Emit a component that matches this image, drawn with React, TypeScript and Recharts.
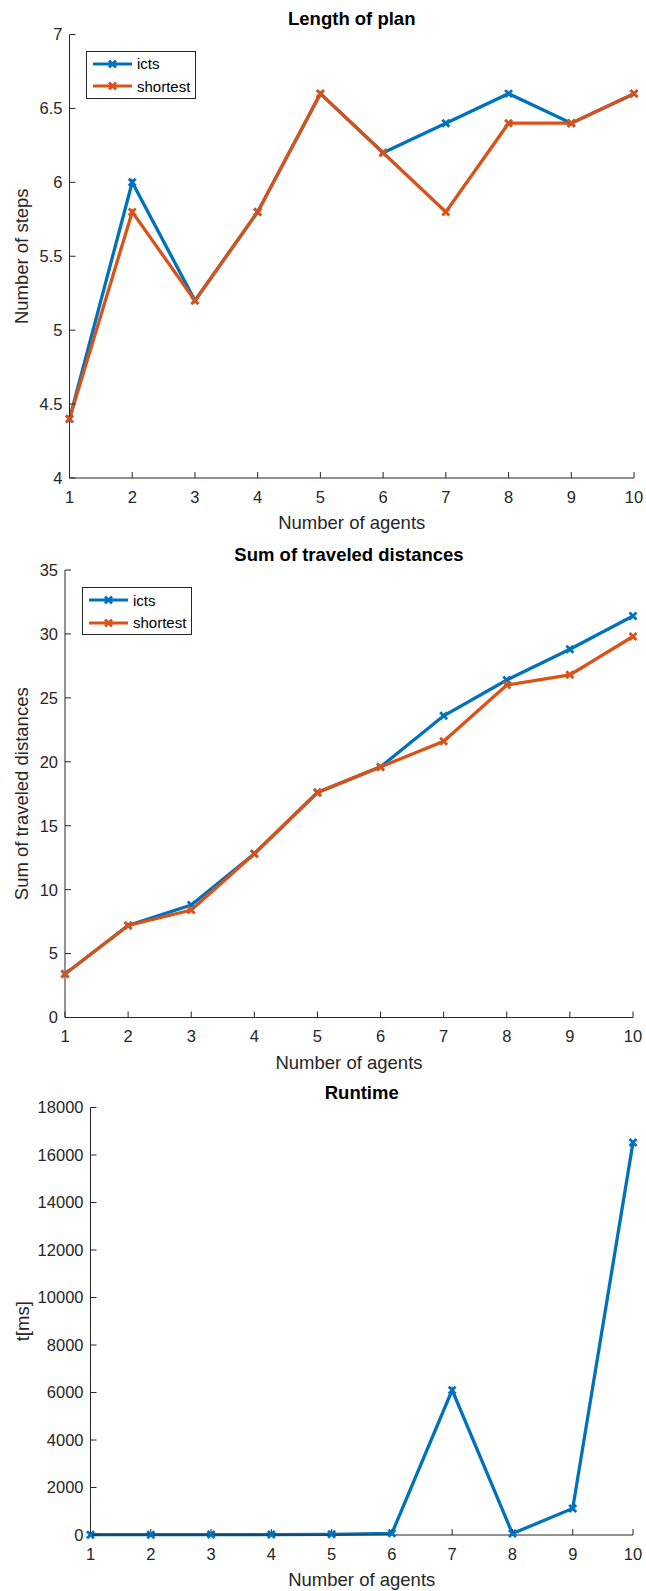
import { Legend, Line, LineChart, XAxis, YAxis } from 'recharts'

const agents = [1, 2, 3, 4, 5, 6, 7, 8, 9, 10]
const planIcts = [4.4, 6.0, 5.2, 5.8, 6.6, 6.2, 6.4, 6.6, 6.4, 6.6]
const planShortest = [4.4, 5.8, 5.2, 5.8, 6.6, 6.2, 5.8, 6.4, 6.4, 6.6]
const distIcts = [3.4, 7.2, 8.8, 12.8, 17.6, 19.6, 23.6, 26.4, 28.8, 31.4]
const distShortest = [3.4, 7.2, 8.4, 12.8, 17.6, 19.6, 21.6, 26.0, 26.8, 29.8]
const runtimeIcts = [15, 15, 20, 20, 30, 70, 6100, 60, 1120, 16530]

const planTicks = [4, 4.5, 5, 5.5, 6, 6.5, 7]
const distTicks = [0, 5, 10, 15, 20, 25, 30, 35]
const runtimeTicks = [0, 2000, 4000, 6000, 8000, 10000, 12000, 14000, 16000, 18000]

const BLUE = '#0072BD'
const ORANGE = '#D95319'
const AXIS = '#262626'
const FONT = '"Liberation Sans", Arial, Helvetica, sans-serif'

const planData = agents.map((n, i) => ({ n, icts: planIcts[i], shortest: planShortest[i] }))
const distData = agents.map((n, i) => ({ n, icts: distIcts[i], shortest: distShortest[i] }))
const runtimeData = agents.map((n, i) => ({ n, icts: runtimeIcts[i] }))

// matlab-style 'x' marker
function Cross(props: any) {
  const { cx, cy, stroke } = props
  if (cx == null || cy == null) return null
  const r = 3.5
  return (
    <path
      d={`M${cx - r},${cy - r}L${cx + r},${cy + r}M${cx - r},${cy + r}L${cx + r},${cy - r}`}
      stroke={stroke}
      strokeWidth={2.8}
      fill="none"
    />
  )
}

function LegendBox({ payload }: any) {
  return (
    <div
      style={{
        border: `1px solid ${AXIS}`,
        background: '#fff',
        width: 110,
        height: 48,
        boxSizing: 'border-box',
        paddingTop: 1,
        fontFamily: FONT,
        fontSize: 15,
        color: '#000',
      }}
    >
      {(payload || []).map((p: any) => (
        <div key={p.value} style={{ display: 'flex', alignItems: 'center', height: 22.5 }}>
          <svg width={46} height={12} style={{ marginLeft: 4 }}>
            <line x1={2} y1={6} x2={41} y2={6} stroke={p.color} strokeWidth={3.2} />
            <Cross cx={21.5} cy={6} stroke={p.color} />
          </svg>
          <span>{p.value}</span>
        </div>
      ))}
    </div>
  )
}

const xLabel = (text: string) => (props: any) => {
  const vb = props.viewBox
  return (
    <text x={vb.x + vb.width / 2} y={vb.y + 51} textAnchor="middle" fontSize={18.5} fill={AXIS} fontFamily={FONT}>
      {text}
    </text>
  )
}

const yLabel = (text: string, cx: number) => (props: any) => {
  const vb = props.viewBox
  const cy = vb.y + vb.height / 2
  return (
    <text
      x={cx}
      y={cy}
      transform={`rotate(-90 ${cx} ${cy})`}
      textAnchor="middle"
      dominantBaseline="central"
      fontSize={18.5}
      fill={AXIS}
      fontFamily={FONT}
    >
      {text}
    </text>
  )
}

const tickStyle = { fill: AXIS, fontSize: 16.5, fontFamily: FONT }

interface PanelProps {
  top: number
  height: number
  plotTop: number
  plotBottom: number
  plotLeft: number
  plotRight: number
  title: string
  titleY: number
  yTitle: string
  yTitleX: number
  yTicks: number[]
  data: any[]
  series: { key: string; color: string }[]
  legend?: { left: number; top: number }
}

function Panel(p: PanelProps) {
  const width = 646
  return (
    <div style={{ position: 'absolute', left: 0, top: p.top, width, height: p.height }}>
      <div
        style={{
          position: 'absolute',
          left: p.plotLeft,
          width: p.plotRight - p.plotLeft,
          top: p.titleY - p.top - 11,
          lineHeight: '22px',
          textAlign: 'center',
          fontFamily: FONT,
          fontWeight: 'bold',
          fontSize: 18.5,
          color: '#000',
          zIndex: 2,
        }}
      >
        {p.title}
      </div>
      <LineChart
        width={width}
        height={p.height}
        data={p.data}
        margin={{ top: p.plotTop - p.top, right: width - p.plotRight, bottom: 0, left: 0 }}
        style={{ overflow: 'visible' }}
      >
        <XAxis
          type="number"
          dataKey="n"
          domain={[1, 10]}
          ticks={agents}
          interval={0}
          height={p.top + p.height - p.plotBottom}
          tickSize={-6}
          tickMargin={19}
          tick={tickStyle}
          stroke={AXIS}
          label={xLabel('Number of agents')}
        />
        <YAxis
          type="number"
          domain={[p.yTicks[0], p.yTicks[p.yTicks.length - 1]]}
          ticks={p.yTicks}
          interval={0}
          width={p.plotLeft}
          tickSize={-6}
          tickMargin={13}
          tick={tickStyle}
          stroke={AXIS}
          label={yLabel(p.yTitle, p.yTitleX)}
        />
        {p.legend && (
          <Legend
            layout="horizontal"
            verticalAlign="middle"
            align="center"
            content={<LegendBox />}
            wrapperStyle={{ left: p.legend.left, top: p.legend.top - p.top, width: 'auto' }}
          />
        )}
        {p.series.map((s) => (
          <Line
            key={s.key}
            type="linear"
            dataKey={s.key}
            name={s.key}
            stroke={s.color}
            strokeWidth={3.3}
            dot={<Cross />}
            activeDot={false}
            isAnimationActive={false}
          />
        ))}
      </LineChart>
    </div>
  )
}

export default function App() {
  return (
    <div style={{ position: 'absolute', left: 0, top: 0, width: 646, height: 1591, background: '#fff' }}>
      <Panel
        top={0}
        height={545}
        plotTop={34.5}
        plotBottom={478}
        plotLeft={69.5}
        plotRight={634}
        title="Length of plan"
        titleY={18.6}
        yTitle="Number of steps"
        yTitleX={21.5}
        yTicks={planTicks}
        data={planData}
        series={[
          { key: 'icts', color: BLUE },
          { key: 'shortest', color: ORANGE },
        ]}
        legend={{ left: 86, top: 50.7 }}
      />
      <Panel
        top={530}
        height={550}
        plotTop={570}
        plotBottom={1017.5}
        plotLeft={65}
        plotRight={633}
        title="Sum of traveled distances"
        titleY={554.8}
        yTitle="Sum of traveled distances"
        yTitleX={21.5}
        yTicks={distTicks}
        data={distData}
        series={[
          { key: 'icts', color: BLUE },
          { key: 'shortest', color: ORANGE },
        ]}
        legend={{ left: 82, top: 587 }}
      />
      <Panel
        top={1070}
        height={521}
        plotTop={1107.5}
        plotBottom={1535}
        plotLeft={90.5}
        plotRight={633}
        title="Runtime"
        titleY={1092.8}
        yTitle="t[ms]"
        yTitleX={22.7}
        yTicks={runtimeTicks}
        data={runtimeData}
        series={[{ key: 'icts', color: BLUE }]}
      />
    </div>
  )
}
